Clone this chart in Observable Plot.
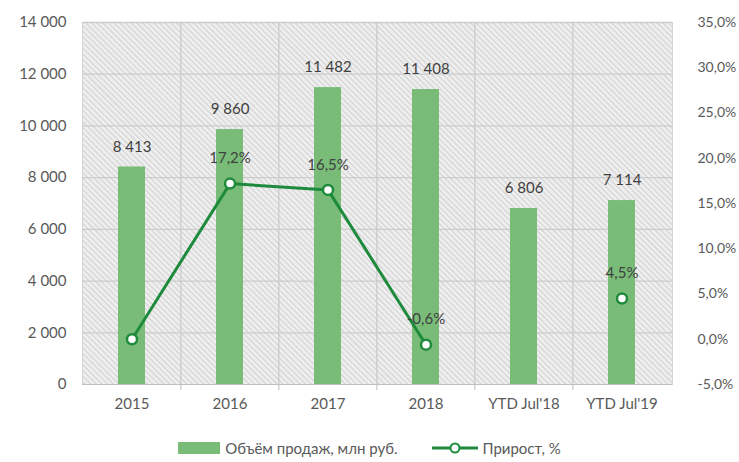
<!DOCTYPE html>
<html>
<head>
<meta charset="utf-8">
<script src="https://cdn.jsdelivr.net/npm/d3@7"></script>
<script src="https://cdn.jsdelivr.net/npm/@observablehq/plot@0.6"></script>
<style>
  body { margin: 0; background: #fff; font-family: Lato, "Open Sans", sans-serif; }
  #legend { display: flex; justify-content: center; align-items: center; gap: 34px; height: 37px; padding-top: 4px; color: #595959; font-size: 15px; }
  .item { display: flex; align-items: center; gap: 5px; }
</style>
</head>
<body>
<div id="chart"></div>
<div id="legend">
  <div class="item"><svg width="42" height="12"><rect x="0" y="0" width="42" height="12" fill="#78bc78"></rect></svg><span>Объём продаж, млн руб.</span></div>
  <div class="item"><svg width="46" height="12"><line x1="0" y1="6" x2="46" y2="6" stroke="#1e8a3c" stroke-width="3"></line><circle cx="23" cy="6" r="4.5" fill="#fff" stroke="#1e8a3c" stroke-width="2"></circle></svg><span>Прирост, %</span></div>
</div>
<script>
const categories = ["2015", "2016", "2017", "2018", "YTD Jul'18", "YTD Jul'19"];
const sales = [8413, 9860, 11482, 11408, 6806, 7114];
const growth = [0, 17.2, 16.5, -0.6, null, 4.5];
const growthLabels = ["", "17,2%", "16,5%", "-0,6%", "", "4,5%"];
const leftTicks = [0, 2000, 4000, 6000, 8000, 10000, 12000, 14000];
const rightTicks = [-5, 0, 5, 10, 15, 20, 25, 30, 35];

const yMax = 14000, pMin = -5, pMax = 35;
const toV = p => (p - pMin) / (pMax - pMin) * yMax;
const fromV = v => v / yMax * (pMax - pMin) + pMin;

const loc = d3.formatLocale({thousands: "\u00a0", grouping: [3], decimal: ",", currency: ["", ""]});
const fmtNum = loc.format(",d");
const fmtPct = p => p.toFixed(1).replace(".", ",") + "%";

const rows = categories.map((c, i) => ({cat: c, sales: sales[i], growth: growth[i], glabel: growthLabels[i]}));
const barColor = "#78bc78";
const lineColor = "#1e8a3c";
const step = (739 - 82 - 67) / categories.length;

const plot = Plot.plot({
  width: 739,
  height: 425,
  marginTop: 22,
  marginBottom: 41,
  marginLeft: 82,
  marginRight: 67,
  style: {fontFamily: "Lato, 'Open Sans', sans-serif", fontSize: "15px", background: "#fff"},
  x: {domain: categories, paddingInner: 0.72, paddingOuter: 0.36, label: null},
  y: {domain: [0, yMax], label: null},
  marks: [
    Plot.frame({fill: "url(#hatch)", stroke: "#d4d4d4"}),
    Plot.ruleY(leftTicks.slice(1), {stroke: "#cccccc", strokeWidth: 1.3}),
    Plot.ruleX(categories.slice(1), {dx: -step / 2, stroke: "#cccccc", strokeWidth: 1.3, insetBottom: -6}),
    Plot.ruleY([0], {stroke: "#bfbfbf", strokeWidth: 1.2}),
    Plot.barY(rows, {x: "cat", y: "sales", fill: barColor}),
    Plot.text(rows, {x: "cat", y: "sales", text: d => fmtNum(d.sales), dy: -20, fill: "#404040", fontSize: 15}),
    Plot.line(rows, {x: "cat", y: d => d.growth == null ? NaN : toV(d.growth), stroke: lineColor, strokeWidth: 3}),
    Plot.dot(rows.filter(d => d.growth != null), {x: "cat", y: d => toV(d.growth), r: 5, fill: "#fff", stroke: lineColor, strokeWidth: 2.5}),
    Plot.text(rows.filter(d => d.glabel), {x: "cat", y: d => toV(d.growth), text: "glabel", dy: -25, fill: "#404040", fontSize: 15}),
    Plot.axisY({ticks: leftTicks, tickFormat: fmtNum, tickSize: 0, tickPadding: 16, color: "#595959", label: null}),
    Plot.axisY({anchor: "right", ticks: rightTicks.map(toV), tickFormat: v => fmtPct(fromV(v)), tickSize: 0, tickPadding: 25, fontSize: 14, color: "#595959", label: null}),
    Plot.axisX({tickSize: 0, tickPadding: 14, color: "#595959", label: null})
  ]
});

const ns = "http://www.w3.org/2000/svg";
const defs = document.createElementNS(ns, "defs");
defs.innerHTML = '<pattern id="hatch" width="4" height="4" patternUnits="userSpaceOnUse" patternTransform="rotate(-45)"><rect width="4" height="4" fill="#eeeeee"></rect><line x1="0" y1="0" x2="0" y2="4" stroke="#c6c6c6" stroke-width="1.5"></line></pattern>';
plot.insertBefore(defs, plot.firstChild);
document.getElementById("chart").appendChild(plot);
</script>
</body>
</html>
